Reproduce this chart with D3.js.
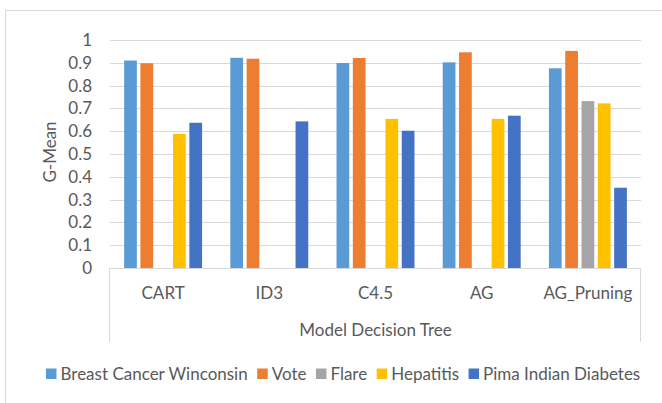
<!DOCTYPE html>
<html>
<head>
<meta charset="utf-8">
<script src="https://cdn.jsdelivr.net/npm/d3@7"></script>
<style>
  body { margin: 0; background: #fff; }
  svg { display: block; font-family: Lato, "Liberation Sans", sans-serif; }
</style>
</head>
<body>
<svg width="662" height="403"></svg>
<script>
// chart data
const models = ["CART", "ID3", "C4.5", "AG", "AG_Pruning"];
const datasets = ["Breast Cancer Winconsin", "Vote", "Flare", "Hepatitis", "Pima Indian Diabetes"];
const colors = ["#5B9BD5", "#ED7D31", "#A5A5A5", "#FFC000", "#4472C4"];
const breastCancer = [0.91, 0.922, 0.899, 0.902, 0.876];
const vote = [0.898, 0.918, 0.921, 0.946, 0.952];
const flare = [null, null, null, null, 0.732];
const hepatitis = [0.588, null, 0.654, 0.654, 0.722];
const pima = [0.637, 0.643, 0.602, 0.668, 0.352];
const yTicks = [0, 0.1, 0.2, 0.3, 0.4, 0.5, 0.6, 0.7, 0.8, 0.9, 1];

const series = [breastCancer, vote, flare, hepatitis, pima];

const plotLeft = 110, plotRight = 641, plotTop = 40, plotBottom = 268;
const fontSize = "17px";

const svg = d3.select("svg");

// outer chart border
svg.append("rect")
    .attr("x", 5.5).attr("y", 10.5)
    .attr("width", 700).attr("height", 500)
    .attr("fill", "none")
    .attr("stroke", "#D9D9D9");

const x0 = d3.scaleBand()
    .domain(models)
    .range([plotLeft, plotRight]);

const groupW = x0.bandwidth();
const x1 = d3.scaleBand()
    .domain(datasets)
    .range([groupW * 0.133, groupW * 0.867])
    .paddingInner(0.22);

const y = d3.scaleLinear()
    .domain([0, 1])
    .range([plotBottom, plotTop]);

// gridlines
svg.append("g")
  .selectAll("line")
  .data(yTicks.slice(1))
  .enter().append("line")
    .attr("x1", plotLeft).attr("x2", plotRight)
    .attr("y1", d => Math.round(y(d)) + 0.5)
    .attr("y2", d => Math.round(y(d)) + 0.5)
    .attr("stroke", "#D9D9D9")
    .attr("stroke-width", 1);

// y tick labels
svg.append("g")
  .selectAll("text")
  .data(yTicks)
  .enter().append("text")
    .attr("x", 92)
    .attr("y", d => y(d))
    .attr("dy", "0.35em")
    .attr("text-anchor", "end")
    .attr("fill", "#595959")
    .style("font-size", fontSize)
    .text(d => d);

// bars
const groups = svg.append("g")
  .selectAll("g")
  .data(models)
  .enter().append("g")
    .attr("transform", d => `translate(${x0(d)},0)`);

groups.selectAll("rect")
  .data((m, i) => datasets.map((s, j) => ({ s: s, v: series[j][i], c: colors[j] })).filter(d => d.v != null))
  .enter().append("rect")
    .attr("x", d => x1(d.s))
    .attr("y", d => y(d.v))
    .attr("width", x1.bandwidth())
    .attr("height", d => y(0) - y(d.v))
    .attr("fill", d => d.c);

// category axis box
const axisBox = svg.append("g").attr("stroke", "#D9D9D9").attr("fill", "none");
axisBox.append("line").attr("x1", plotLeft).attr("x2", plotRight).attr("y1", plotBottom + 0.5).attr("y2", plotBottom + 0.5);
axisBox.append("line").attr("x1", plotLeft - 0.5).attr("x2", plotLeft - 0.5).attr("y1", plotBottom).attr("y2", 342);
axisBox.append("line").attr("x1", plotRight - 0.5).attr("x2", plotRight - 0.5).attr("y1", plotBottom).attr("y2", 342);

// category labels
svg.append("g")
  .selectAll("text")
  .data(models)
  .enter().append("text")
    .attr("x", d => x0(d) + groupW / 2)
    .attr("y", 293)
    .attr("dy", "0.35em")
    .attr("text-anchor", "middle")
    .attr("fill", "#595959")
    .style("font-size", fontSize)
    .text(d => d);

// axis titles
svg.append("text")
    .attr("x", (plotLeft + plotRight) / 2)
    .attr("y", 330)
    .attr("dy", "0.35em")
    .attr("text-anchor", "middle")
    .attr("fill", "#595959")
    .style("font-size", fontSize)
    .text("Model Decision Tree");

svg.append("text")
    .attr("transform", "translate(50," + 152 + ") rotate(-90)")
    .attr("dy", "0.35em")
    .attr("text-anchor", "middle")
    .attr("fill", "#595959")
    .style("font-size", fontSize)
    .text("G-Mean");

// legend
const legend = svg.append("g");
let lx = 46;
datasets.forEach(function(name, i) {
  legend.append("rect")
      .attr("x", lx).attr("y", 368.5)
      .attr("width", 10.5).attr("height", 10.5)
      .attr("fill", colors[i]);
  const t = legend.append("text")
      .attr("x", lx + 14.5)
      .attr("y", 374)
      .attr("dy", "0.35em")
      .attr("fill", "#595959")
      .style("font-size", fontSize)
      .text(name);
  lx += 14.5 + t.node().getComputedTextLength() + 9.5;
});
</script>
</body>
</html>
